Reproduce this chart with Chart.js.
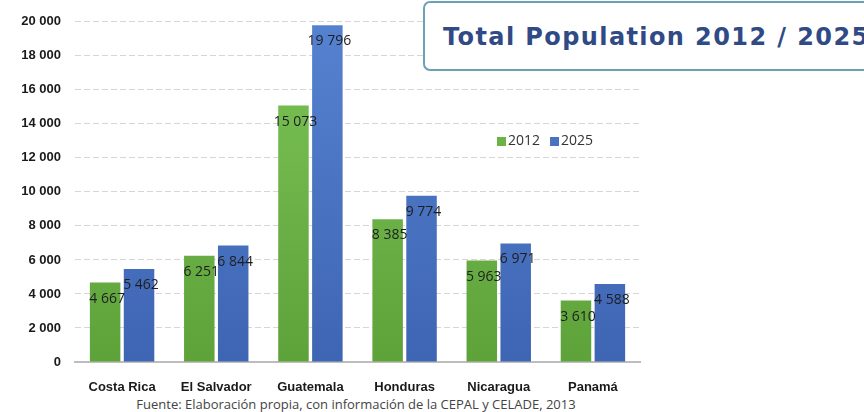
<!DOCTYPE html>
<html>
<head>
<meta charset="utf-8">
<script src="https://cdn.jsdelivr.net/npm/chart.js@4/dist/chart.umd.min.js"></script>
<style>
  html, body { margin: 0; padding: 0; background: #fff; }
  body { width: 864px; height: 412px; position: relative; overflow: hidden; font-family: "Open Sans", "Noto Sans", sans-serif; }
  #wrap { position: absolute; left: 0; top: 0; width: 660px; height: 395px; }
  #title {
    position: absolute; left: 423px; top: 1px; width: 470px; height: 70px;
    border: 2px solid #6d9fb6; border-radius: 7px; background: #fff; box-sizing: border-box;
    font-family: "DejaVu Sans", sans-serif; font-weight: 700; font-size: 24px; color: #2f4a84;
    letter-spacing: 1.4px; line-height: 68px; padding-left: 18px; white-space: nowrap;
  }
  #src { position: absolute; left: 0; width: 712px; top: 395px; text-align: center; font-size: 13px; color: #444; }
</style>
</head>
<body>
<div id="wrap"><canvas id="c"></canvas></div>
<div id="title">Total Population 2012 / 2025</div>
<div id="src">Fuente: Elaboración propia, con información de la CEPAL y CELADE, 2013</div>
<script>
  // ===== Datos =====
  const paises = ['Costa Rica', 'El Salvador', 'Guatemala', 'Honduras', 'Nicaragua', 'Panamá'];
  const pob2012 = [4667, 6251, 15073, 8385, 5963, 3610];
  const pob2025 = [5462, 6844, 19796, 9774, 6971, 4588];
  const series  = ['2012', '2025'];

  const fmt = (v) => String(v).replace(/\B(?=(\d{3})+(?!\d))/g, ' ');

  // gradiente vertical por barra
  function grad(top, bottom) {
    return (ctx) => {
      const area = ctx.chart.chartArea;
      if (!area) return bottom;
      const g = ctx.chart.ctx.createLinearGradient(0, area.top, 0, area.bottom);
      g.addColorStop(0, top);
      g.addColorStop(1, bottom);
      return g;
    };
  }

  // etiquetas de valor dentro de la barra, cerca del tope
  const valueLabels = {
    id: 'valueLabels',
    afterDatasetsDraw(chart) {
      const { ctx } = chart;
      ctx.save();
      ctx.font = '14px "Open Sans", sans-serif';
      ctx.fillStyle = '#1e1e1e';
      ctx.textAlign = 'center';
      ctx.textBaseline = 'middle';
      chart.data.datasets.forEach((ds, i) => {
        chart.getDatasetMeta(i).data.forEach((bar, j) => {
          ctx.fillText(fmt(ds.data[j]), bar.x + 2, bar.y + 16);
        });
      });
      ctx.restore();
    }
  };

  // leyenda dentro del área
  const innerLegend = {
    id: 'innerLegend',
    afterDraw(chart) {
      const { ctx } = chart;
      const cols = ['#6cb245', '#4a72c0'];
      let x = 497;
      const y = 141;
      ctx.save();
      ctx.font = '14px "Open Sans", sans-serif';
      ctx.textBaseline = 'middle';
      series.forEach((s, i) => {
        ctx.fillStyle = cols[i];
        ctx.fillRect(x, y - 4, 9, 9);
        ctx.fillStyle = '#333';
        ctx.fillText(s, x + 11, y);
        x += 11 + ctx.measureText(s).width + 10;
      });
      ctx.restore();
    }
  };

  new Chart(document.getElementById('c'), {
    type: 'bar',
    data: {
      labels: paises,
      datasets: [
        { label: series[0], data: pob2012, backgroundColor: grad('#7cc457', '#5ea23a'), categoryPercentage: 0.72, barPercentage: 0.9 },
        { label: series[1], data: pob2025, backgroundColor: grad('#5582d0', '#3e65b3'), categoryPercentage: 0.72, barPercentage: 0.9 }
      ]
    },
    options: {
      responsive: true,
      maintainAspectRatio: false,
      animation: false,
      layout: { padding: { top: 12, right: 20, left: 0, bottom: 0 } },
      plugins: { legend: { display: false }, tooltip: { enabled: false } },
      scales: {
        x: {
          grid: { display: false },
          border: { display: true, color: '#bdbdbd', width: 2 },
          ticks: { color: '#1a1a1a', font: { size: 13, weight: '600' }, padding: 10 },
          afterFit: (s) => { s.height = 33; }
        },
        y: {
          min: 0, max: 20000,
          ticks: { stepSize: 2000, color: '#1a1a1a', font: { size: 13, weight: '600' }, padding: 14, callback: (v) => fmt(v) },
          grid: { color: '#d6d6d6', drawTicks: false, tickLength: 0 },
          border: { display: false, dash: [6, 3] },
          afterFit: (s) => { s.width = 75; }
        }
      }
    },
    plugins: [valueLabels, innerLegend]
  });
</script>
</body>
</html>
